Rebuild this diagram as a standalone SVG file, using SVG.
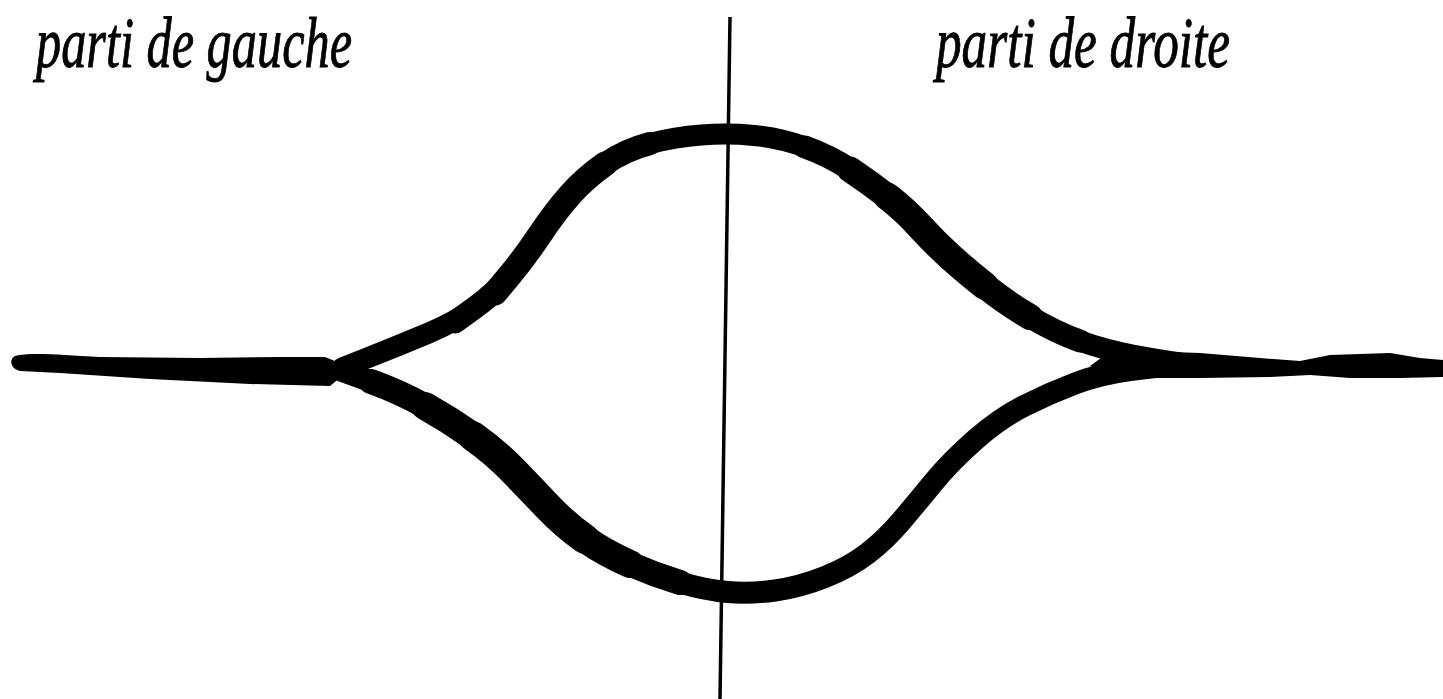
<svg xmlns="http://www.w3.org/2000/svg" width="1443" height="699" viewBox="0 0 1443 699">
<style>
.lbl{font-family:"Liberation Serif","Times New Roman",serif;font-style:italic;font-size:71px;fill:#000;stroke:#000;stroke-width:0.9}
.ink{fill:none;stroke:#000;stroke-linecap:round;stroke-linejoin:round}
</style>
<rect width="1443" height="699" fill="#fff"/>
<g id="labels">
<text class="lbl" x="36" y="67" textLength="316" lengthAdjust="spacingAndGlyphs">parti de gauche</text>
<text class="lbl" x="936" y="67" textLength="294" lengthAdjust="spacingAndGlyphs">parti de droite</text>
</g>
<g id="axis">
<line x1="730" y1="17" x2="720" y2="699" stroke="#000" stroke-width="3.5"/>
</g>
<g id="curve">
<path fill="#000" d="M15,356 C30,352 60,355 100,357 L200,358 L280,357 L325,357 L352,368 L330,386 L250,384 L150,379 L60,373 L20,371 C10,369 9,359 15,356 Z"/>
<path fill="#000" d="M1090,366 L1112,350 L1200,353 L1260,358 L1300,361 L1330,355 L1390,353 L1420,358 L1443,360 L1443,377 L1400,378 L1350,378 L1310,375 L1270,377 L1200,378 L1140,378 L1112,378 Z"/>
<path class="ink" stroke-width="21" d="M342,368 L371,356.5 Q400,345 427.5,333.5 Q455,322 475,307.5 Q495,293 510,275 Q525,257 540,234.5 Q555,212 570,195 Q585,178 605,164 Q625,150 650,143.5 Q675,137 701.5,135 Q728,133 754,135.5 Q780,138 805,147 Q830,156 850,169.5 Q870,183 887.5,196.5 Q905,210 920,226.5 Q935,243 950,256.5 Q965,270 985,286 Q1005,302 1030,317 Q1055,332 1080,341 Q1105,350 1132.5,355 Q1160,360 1180,363"/>
<path class="ink" stroke-width="23" d="M455,322 Q475,307.5 475,307.5 Q495,293 510,275 Q525,257 540,234.5 Q555,212 570,195 Q585,178 605,164 Q625,150 650,143.5"/>
<path class="ink" stroke-width="25" d="M495,293 Q495,293 510,275 Q525,257 540,234.5 Q555,212 570,195 Q585,178 605,164"/>
<path class="ink" stroke-width="23" d="M805,147 Q830,156 850,169.5 Q870,183 887.5,196.5 Q905,210 920,226.5 Q935,243 950,256.5 Q965,270 985,286 Q1005,302 1030,317 Q1055,332 1080,341"/>
<path class="ink" stroke-width="26" d="M850,169.5 Q870,183 887.5,196.5 Q905,210 920,226.5 Q935,243 950,256.5 Q965,270 985,286 Q1005,302 1030,317"/>
<path class="ink" stroke-width="28" d="M887.5,196.5 Q905,210 920,226.5 Q935,243 950,256.5 Q965,270 985,286"/>
<path class="ink" stroke-width="22" d="M342,371 L371,381.5 Q400,392 425,406 Q450,420 472.5,436 Q495,452 512.5,470 Q530,488 547.5,506.5 Q565,525 585,539 Q605,553 630,564 Q655,575 680,582.5 Q705,590 727.5,592 Q750,594 775,590.5 Q800,587 825,577 Q850,567 867.5,553.5 Q885,540 900,522.5 Q915,505 932.5,483.5 Q950,462 975,440 Q1000,418 1025,405.5 Q1050,393 1075,383.5 Q1100,374 1130,370 Q1160,366 1180,365"/>
<path class="ink" stroke-width="25" d="M371,381.5 Q400,392 425,406 Q450,420 472.5,436 Q495,452 512.5,470 Q530,488 547.5,506.5 Q565,525 585,539 Q605,553 630,564 Q655,575 680,582.5"/>
<path class="ink" stroke-width="28" d="M425,406 Q450,420 472.5,436 Q495,452 512.5,470 Q530,488 547.5,506.5 Q565,525 585,539 Q605,553 630,564"/>
<path class="ink" stroke-width="30" d="M472.5,436 Q495,452 512.5,470 Q530,488 547.5,506.5 Q565,525 585,539"/>
</g>
</svg>
